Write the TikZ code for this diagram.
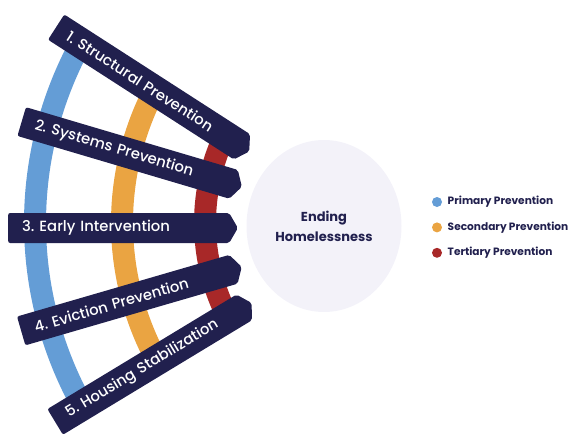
\documentclass[tikz,border=0pt]{standalone}
\usepackage{fontspec}
\setmainfont{Poppins}
\newfontfamily\bannerfont{Poppins Medium}
\usepackage{tikz}
\usetikzlibrary{positioning, calc, shapes.geometric, shapes.symbols}
\frenchspacing
\definecolor{navy}{RGB}{33,32,78}
\definecolor{primblue}{RGB}{100,157,214}
\definecolor{secorange}{RGB}{234,164,66}
\definecolor{tertred}{RGB}{168,40,40}
\definecolor{hubfill}{RGB}{243,242,249}
\tikzset{
    banner/.style={signal, signal to=east, signal from=nowhere, signal pointer angle=120,
      fill=navy, text=white, anchor=west, minimum height=30pt, inner xsep=14pt, inner ysep=0pt,
      text width=193pt, align=left, rounded corners=2pt,
      font=\bannerfont\fontsize{14.8}{16}\selectfont},
    band/.style={line width=22pt},
    legdot/.style={circle, minimum size=10pt, inner sep=0pt},
    legtext/.style={text=navy, font=\bfseries\fontsize{10.6}{12}\selectfont},
}

\begin{document}
\begin{tikzpicture}[x=1pt, y=-1pt]
    \useasboundingbox (0,0) rectangle (571,434);
    \coordinate (fan) at (410,223);

    \draw[band, primblue] ($(fan)+(151:375)$) arc[start angle=151, end angle=209, radius=375];
    \draw[band, secorange] ($(fan)+(152:288)$) arc[start angle=152, end angle=208, radius=288];
    \draw[band, tertred] ($(fan)+(153:205)$) arc[start angle=153, end angle=207, radius=205];

    \node[ellipse, fill=hubfill, minimum width=155pt, minimum height=172pt, align=center,
      text=navy, font=\bfseries\fontsize{13}{20}\selectfont] (hub) at (324,226) {Ending\\Homelessness};

    \node[banner, rotate=-32.8] (b1) at (56,27) {1. Structural Prevention};
    \node[banner, rotate=-16.5] (b2) at (21.5,121.5) {2. Systems Prevention};
    \node[banner] (b3) at (8,228) {3. Early Intervention};
    \node[banner, rotate=16.2] (b4) at (21,331) {4. Eviction Prevention};
    \node[banner, rotate=31.2] (b5) at (55,422) {5. Housing Stabilization};

    \node[legdot, fill=primblue] (dprim) at (437,202) {};
    \node[legdot, fill=secorange, below=15pt of dprim] (dsec) {};
    \node[legdot, fill=tertred, below=15pt of dsec] (dter) {};

    \node[legtext, right=2pt of dprim] (tprim) {Primary Prevention};
    \node[legtext, right=2pt of dsec] (tsec) {Secondary Prevention};
    \node[legtext, right=2pt of dter] (tter) {Tertiary Prevention};
\end{tikzpicture}
\end{document}
